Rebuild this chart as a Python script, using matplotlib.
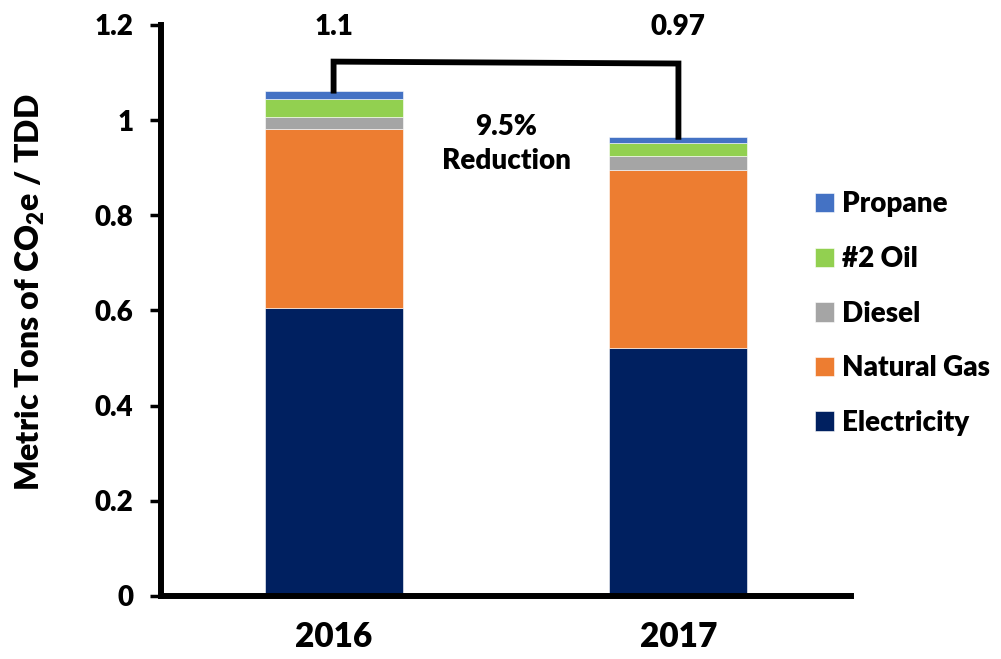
import matplotlib
matplotlib.use("Agg")
import matplotlib.pyplot as plt
import numpy as np

W = 'heavy'
plt.rcParams['font.family'] = ['Lato', 'DejaVu Sans']
plt.rcParams['font.weight'] = W
plt.rcParams['mathtext.fontset'] = 'custom'
plt.rcParams['mathtext.rm'] = 'Lato:heavy'
plt.rcParams['mathtext.bf'] = 'Lato:heavy'

years = ["2016", "2017"]
series_names = ["Electricity", "Natural Gas", "Diesel", "#2 Oil", "Propane"]
electricity = [0.605, 0.522]
natural_gas = [0.377, 0.373]
diesel = [0.025, 0.030]
oil2 = [0.038, 0.026]
propane = [0.017, 0.014]
total_labels = ["1.1", "0.97"]
reduction_label = "9.5%\nReduction"

colors = ["#002060", "#ED7D31", "#A5A5A5", "#92D050", "#4472C4"]
series = [electricity, natural_gas, diesel, oil2, propane]

fig = plt.figure(figsize=(10.01, 6.59), dpi=100)
ax = fig.add_axes([0.161, 0.0956, 0.689, 0.8665])

x = np.arange(len(years))
bottom = np.zeros(len(years))
handles = []
for name, vals, c in zip(series_names, series, colors):
    h = ax.bar(x, vals, width=0.4, bottom=bottom, color=c, label=name,
               edgecolor='white', linewidth=0.4)
    handles.append(h)
    bottom = bottom + np.array(vals)
totals = bottom

ax.set_xlim(-0.5, 1.5)
ax.set_ylim(0, 1.2)
ax.set_yticks(np.arange(0, 1.21, 0.2))
ax.set_yticklabels(["0", "0.2", "0.4", "0.6", "0.8", "1", "1.2"])
ax.set_xticks(x)
ax.set_xticklabels(years)

for s in ["top", "right"]:
    ax.spines[s].set_visible(False)
for s in ["left", "bottom"]:
    ax.spines[s].set_linewidth(4.3)
    ax.spines[s].set_color("black")
ax.tick_params(axis='y', length=8, width=2.5, labelsize=20, pad=12)
ax.tick_params(axis='x', length=0, labelsize=24, pad=18)
for lab in ax.get_xticklabels() + ax.get_yticklabels():
    lab.set_fontweight(W)

fig.text(30 / 1001, 1 - 292 / 659, r"Metric Tons of CO$_\mathrm{2}$e / TDD",
         rotation=90, ha='center', va='center', fontsize=23, fontweight=W)

# bracket between totals
top_y = [1.123, 1.119]
ax.plot([x[0], x[0], x[1], x[1]], [totals[0], top_y[0], top_y[1], totals[1]],
        color='black', linewidth=4.2, solid_joinstyle='miter', clip_on=False)

for xi, lbl in zip(x, total_labels):
    ax.text(xi, 1.196, lbl, ha='center', va='center', fontsize=20,
            fontweight=W)
ax.text(0.5, 0.95, reduction_label, ha='center', va='center', fontsize=20,
        fontweight=W, linespacing=1.4)

leg = fig.legend(handles[::-1], series_names[::-1], loc='center left',
                 bbox_to_anchor=(0.8, 0.524), frameon=False,
                 handlelength=0.7, handleheight=0.7, handletextpad=0.3,
                 labelspacing=1.03, borderpad=0, prop={'weight': W, 'size': 20})

fig.savefig("out.png", dpi=100)
